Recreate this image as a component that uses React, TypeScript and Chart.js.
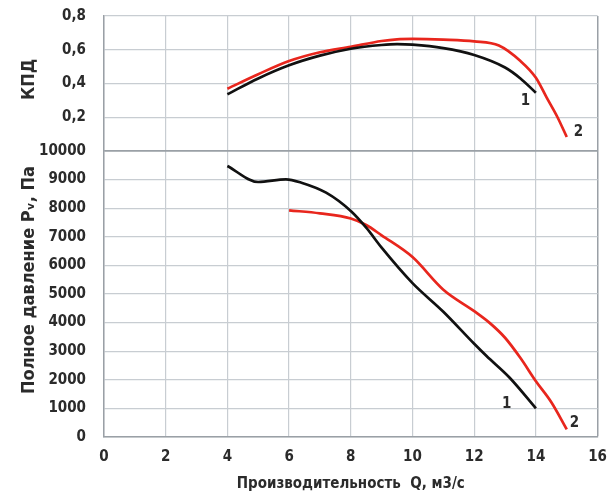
import { useEffect, useRef } from 'react';
import { Chart, registerables } from 'chart.js';

Chart.register(...registerables);

// Efficiency (КПД) curves
const effQ1 = [4, 5, 6, 7, 8, 9, 9.5, 10, 11, 12, 13, 13.5, 14];
const eff1 = [0.336, 0.43, 0.508, 0.565, 0.606, 0.628, 0.633, 0.63, 0.61, 0.569, 0.495, 0.43, 0.345];
const effQ2 = [4, 5, 6, 7, 8, 9, 9.5, 10, 11, 12, 12.8, 13.5, 14, 14.35, 14.7, 15];
const eff2 = [0.369, 0.455, 0.533, 0.585, 0.618, 0.652, 0.662, 0.664, 0.66, 0.65, 0.625, 0.533, 0.434, 0.316, 0.2, 0.083];

// Total pressure curves
const presQ1 = [4, 5, 5.9, 6.4, 7.2, 8, 8.5, 9, 10, 11, 12, 12.4, 13.15, 14];
const pres1 = [9476, 8916, 9010, 8892, 8542, 7902, 7318, 6619, 5380, 4380, 3260, 2832, 2073, 1003];
const presQ2 = [6, 7, 8, 8.5, 9, 10, 11, 12, 12.5, 13, 13.5, 14, 14.5, 15];
const pres2 = [7926, 7820, 7640, 7413, 7050, 6290, 5150, 4400, 3990, 3470, 2760, 1950, 1215, 269];

// Curve number annotations (data units)
const effLabelQ = [13.66, 15.38];
const effLabelV = [0.296, 0.113];
const presLabelQ = [13.05, 15.25];
const presLabelV = [1150, 490];
const curveNames = ['1', '2'];

const xTitle = 'Производительность  Q, м3/с';
const effTitle = 'КПД';
const presTitle = 'Полное давление Pᵥ, Па';

const xTicksMax = 16;
const effMax = 0.8;
const presMax = 10000;

const FONT = "'Liberation Sans Narrow', 'DejaVu Sans Condensed', 'Liberation Sans', sans-serif";
const TEXT = '#2b2b2b';
const GRID = '#c8cdd2';
const AXIS = '#9aa0a6';

const zip = (xs: number[], ys: number[]) => xs.map((x, i) => ({ x, y: ys[i] }));

const labelsPlugin = {
  id: 'curveLabels',
  afterDatasetsDraw(chart: any) {
    const { ctx, scales } = chart;
    ctx.save();
    ctx.font = `bold 15px ${FONT}`;
    ctx.fillStyle = TEXT;
    ctx.textAlign = 'center';
    ctx.textBaseline = 'middle';
    curveNames.forEach((n, i) => {
      ctx.fillText(n, scales.x.getPixelForValue(effLabelQ[i]), scales.yEff.getPixelForValue(effLabelV[i]));
      ctx.fillText(n, scales.x.getPixelForValue(presLabelQ[i]), scales.yPres.getPixelForValue(presLabelV[i]));
    });
    // rotated y-axis titles
    ctx.font = `bold 18px ${FONT}`;
    const drawV = (text: string, cy: number) => {
      ctx.save();
      ctx.translate(29, cy);
      ctx.rotate(-Math.PI / 2);
      ctx.fillText(text, 0, 0);
      ctx.restore();
    };
    const e = scales.yEff;
    const p = scales.yPres;
    drawV(effTitle, (e.top + e.bottom) / 2 - 4);
    drawV(presTitle, (p.top + p.bottom) / 2 - 14);
    ctx.restore();
  },
};

export default function App() {
  const ref = useRef<HTMLCanvasElement | null>(null);
  useEffect(() => {
    if (!ref.current) return;
    const line = (color: string) => ({
      borderColor: color,
      backgroundColor: color,
      borderWidth: 2.7,
      pointRadius: 0,
      cubicInterpolationMode: 'monotone' as const,
      fill: false,
    });
    const tickFont = { family: FONT, size: 15, weight: 'bold' as const };
    const chart = new Chart(ref.current, {
      type: 'line',
      data: {
        datasets: [
          { ...line('#111111'), data: zip(effQ1, eff1), yAxisID: 'yEff' },
          { ...line('#e8261d'), data: zip(effQ2, eff2), yAxisID: 'yEff' },
          { ...line('#111111'), data: zip(presQ1, pres1), yAxisID: 'yPres' },
          { ...line('#e8261d'), data: zip(presQ2, pres2), yAxisID: 'yPres' },
        ],
      },
      options: {
        animation: false,
        responsive: true,
        maintainAspectRatio: false,
        layout: { padding: { left: 21, right: 8, top: 0, bottom: 0 } },
        plugins: { legend: { display: false }, tooltip: { enabled: false } },
        scales: {
          x: {
            type: 'linear',
            min: 0,
            max: xTicksMax,
            ticks: { stepSize: 2, autoSkip: false, color: TEXT, font: tickFont, padding: 11, callback: (v: any) => String(v) },
            grid: {
              color: (c: any) => (c.tick && c.tick.value === xTicksMax ? AXIS : GRID),
              lineWidth: (c: any) => (c.tick && c.tick.value === xTicksMax ? 1.5 : 1.2),
              drawTicks: false,
            },
            border: { color: AXIS, width: 1.5 },
            title: {
              display: true,
              text: xTitle,
              color: TEXT,
              font: { family: FONT, size: 15, weight: 'bold' },
              padding: { top: -2, bottom: 0 },
            },
          },
          yPres: {
            type: 'linear',
            position: 'left',
            stack: 'v',
            stackWeight: 286,
            min: 0,
            max: presMax,
            ticks: { stepSize: 1000, autoSkip: false, color: TEXT, font: tickFont, padding: 18, callback: (v: any) => String(v) },
            grid: {
              color: (c: any) => (c.tick && c.tick.value === presMax ? AXIS : GRID),
              lineWidth: (c: any) => (c.tick && c.tick.value === presMax ? 1.6 : 1.2),
              drawTicks: false,
            },
            border: { color: AXIS, width: 1.5 },
          },
          yEff: {
            type: 'linear',
            position: 'left',
            stack: 'v',
            stackWeight: 135,
            min: 0,
            max: effMax,
            ticks: {
              stepSize: 0.2,
              autoSkip: false,
              color: TEXT,
              font: tickFont,
              padding: 18,
              callback: (v: any) => (Number(v) === 0 ? '' : Number(v).toFixed(1).replace('.', ',')),
            },
            grid: {
              color: (c: any) => (c.tick && c.tick.value === 0 ? AXIS : GRID),
              lineWidth: (c: any) => (c.tick && c.tick.value === 0 ? 1.6 : 1.2),
              drawTicks: false,
            },
            border: { color: AXIS, width: 1.5 },
          },
        },
      },
      plugins: [labelsPlugin],
    });
    return () => chart.destroy();
  }, []);
  return (
    <div style={{ position: 'fixed', left: 0, top: -11, width: 618, height: 504, background: '#fff' }}>
      <canvas ref={ref} />
    </div>
  );
}
